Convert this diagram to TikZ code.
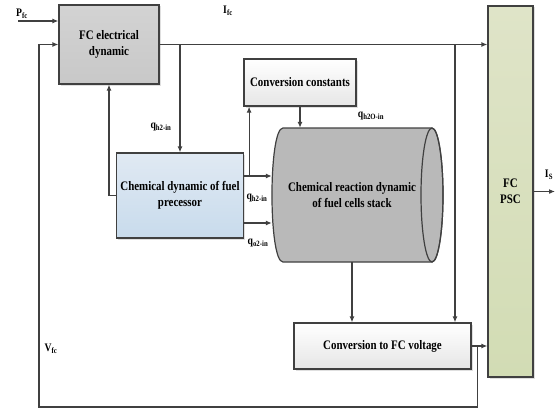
\documentclass[tikz,border=0pt]{standalone}
\usepackage{fontspec}
\setmainfont[FakeStretch=0.84]{Liberation Serif}
\usetikzlibrary{positioning,arrows.meta,shadows}
\definecolor{linegray}{HTML}{404040}
\definecolor{fcgray}{HTML}{C8C8C8}
\definecolor{stackgray}{HTML}{B9B9B9}
\definecolor{procblue1}{HTML}{E0E9F3}
\definecolor{procblue2}{HTML}{C8DBEC}
\definecolor{convgray}{HTML}{E6E6E6}
\definecolor{pscgreen1}{HTML}{DFE4C8}
\definecolor{pscgreen2}{HTML}{D2DCB4}

\tikzset{
  blockbox/.style={draw=linegray, line width=1.2pt, align=center,
    font=\fontsize{13}{15.5}\selectfont\bfseries,
    drop shadow={opacity=0.25, shadow xshift=1.5pt, shadow yshift=-1.5pt}},
  flow/.style={-{Latex[length=6pt,width=5pt]}, line width=1.2pt, draw=linegray},
  wire/.style={line width=1.2pt, draw=linegray},
  sig/.style={font=\fontsize{11.5}{13}\selectfont\bfseries, inner sep=0pt},
}

\begin{document}
\begin{tikzpicture}[x=1pt, y=-1pt]
\useasboundingbox (0,0) rectangle (556,412);

% blocks
\node[blockbox, top color=fcgray!80, bottom color=fcgray, minimum width=100pt, minimum height=79pt] (fced) at (109,44.5) {FC electrical\\dynamic};
\node[blockbox, top color=procblue1, bottom color=procblue2, minimum width=127pt, minimum height=85pt] (cdfp) at (180,195.5) {Chemical dynamic of fuel\\precessor};
\node[blockbox, top color=white, bottom color=convgray, minimum width=112pt, minimum height=47pt] (convc) at (300,82.5) {Conversion constants};
\node[blockbox, top color=white, bottom color=convgray, minimum width=177pt, minimum height=46pt] (cfcv) at (382.5,346) {Conversion to FC voltage};
\node[blockbox, top color=pscgreen1, bottom color=pscgreen2, minimum width=45pt, minimum height=371pt] (psc) at (510.5,191.5) {FC\\PSC};

% fuel cell stack
\filldraw[wire, fill=stackgray] (283,128) -- (432,128)
  arc[start angle=90, end angle=-90, x radius=11pt, y radius=67pt]
  -- (283,262) .. controls (268.3,262) and (268.3,128) .. (283,128) -- cycle;
\draw[wire] (432,195) ellipse[x radius=11pt, y radius=67pt];
\node[align=center, font=\fontsize{13}{15.5}\selectfont\bfseries, minimum width=160pt, minimum height=134pt] (stack) at (352,195) {Chemical reaction dynamic\\of fuel cells stack};

% inputs and outputs
\coordinate (pin) at (18,21);
\coordinate (isout) at (555,191.5);
\coordinate (fbl) at (39,407);
\coordinate (jv) at (455,44.5);
\coordinate (h2) at ([yshift=19.5pt]cdfp.east);
\coordinate (o2) at ([yshift=-27.5pt]cdfp.east);
\coordinate (h2up) at ([xshift=5pt]h2);

\draw[flow] (pin) -- (pin -| fced.west);
\draw[flow] (fced.east) -- (fced.east -| psc.west);
\draw[flow] (cdfp.north |- fced.east) -- (cdfp.north);
\draw[flow] (jv) -- (jv |- cfcv.north);
\draw[flow] (cdfp.west) -| (fced.south);
\draw[flow] (h2) -- (h2 -| stack.west);
\draw[flow] (h2up) -- (h2up |- convc.south);
\draw[flow] (o2) -- (o2 -| stack.west);
\draw[flow] (convc.south) -- (convc.south |- stack.north);
\draw[flow] (stack.south) -- (stack.south |- cfcv.north);
\draw[flow] (cfcv.east) -- (cfcv.east -| psc.west);
\draw[flow] ([xshift=6pt]cfcv.east) |- (fbl) |- (fced.west);
\draw[flow] (psc.east) -- (isout);

% signal names
\node[sig] (pfc) at (22,14) {P\textsubscript{fc}};
\node[sig] (ifc) at (228,11) {I\textsubscript{fc}};
\node[sig] (qh2a) at (161,127) {q\textsubscript{h2-in}};
\node[sig] (qh2b) at (257,198) {q\textsubscript{h2-in}};
\node[sig] (qo2) at (258,243) {q\textsubscript{o2-in}};
\node[sig] (qh2o) at (371,116) {q\textsubscript{h2O-in}};
\node[sig] (vfc) at (51,349) {V\textsubscript{fc}};
\node[sig] (is) at (549,175) {I\textsubscript{S}};
\end{tikzpicture}
\end{document}
